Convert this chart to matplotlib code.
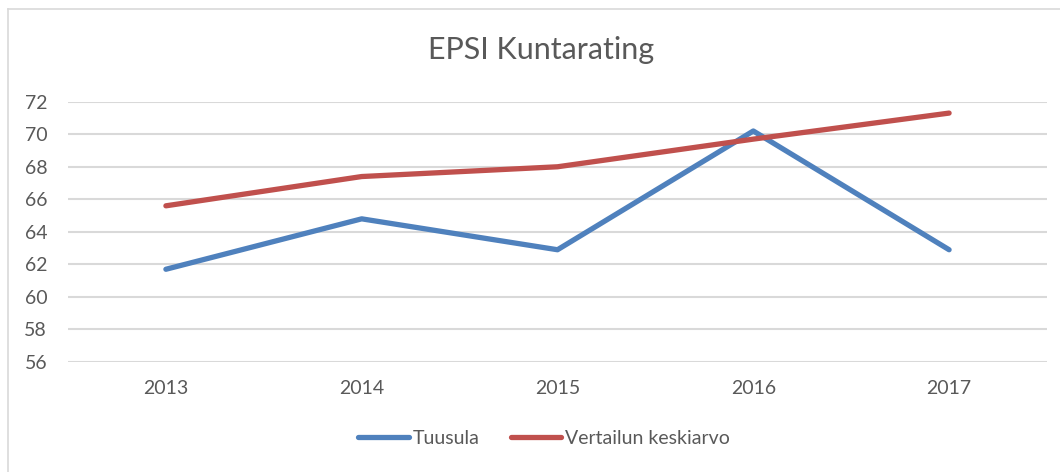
import matplotlib
matplotlib.use("Agg")
import matplotlib.pyplot as plt
from matplotlib.lines import Line2D

years = ["2013", "2014", "2015", "2016", "2017"]
tuusula = [61.7, 64.8, 62.9, 70.2, 62.9]
vertailu = [65.6, 67.4, 68.0, 69.7, 71.3]
series_names = ["Tuusula", "Vertailun keskiarvo"]
yticks = [56, 58, 60, 62, 64, 66, 68, 70, 72]

plt.rcParams['font.family'] = ['Lato', 'DejaVu Sans']
txt = '#595959'

fig = plt.figure(figsize=(10.6, 4.72), dpi=100)
ax = fig.add_axes([68/1060, 1-362/472, (1047-68)/1060, (362-101.7)/472])

x = list(range(len(years)))
ax.plot(x, tuusula, color='#4F81BD', lw=3.8, solid_capstyle='round', solid_joinstyle='round', label=series_names[0], zorder=3)
ax.plot(x, vertailu, color='#C0504D', lw=3.8, solid_capstyle='round', solid_joinstyle='round', label=series_names[1], zorder=3)

ax.set_xlim(-0.5, len(years)-0.5)
ax.set_ylim(56, 72)
ax.set_yticks(yticks)
ax.set_xticks(x)
ax.set_xticklabels(years)
ax.yaxis.grid(True, color='#D9D9D9', lw=1.5)
ax.set_axisbelow(True)
for s in ax.spines.values():
    s.set_visible(False)
ax.tick_params(axis='both', length=0, labelsize=14, colors=txt)
ax.tick_params(axis='y', pad=15)
ax.tick_params(axis='x', pad=13)

fig.text(541/1060, 1-50/472, "EPSI Kuntarating", ha='center', va='center', fontsize=22, color=txt)

handles = [Line2D([0], [0], color='#4F81BD', lw=3.8, solid_capstyle='round'),
           Line2D([0], [0], color='#C0504D', lw=3.8, solid_capstyle='round')]
fig.legend(handles, series_names, loc='center', bbox_to_anchor=(544/1060, 1-438/472),
           ncol=2, frameon=False, fontsize=14, labelcolor=txt, handlelength=2.6,
           handletextpad=0.2, columnspacing=1.6)

# chart border (top and left visible)
fig.add_artist(Line2D([8/1060, 8/1060], [0, 1-9/472], color='#D9D9D9', lw=1.2, transform=fig.transFigure))
fig.add_artist(Line2D([8/1060, 1], [1-9/472, 1-9/472], color='#D9D9D9', lw=1.2, transform=fig.transFigure))

fig.savefig("out.png", dpi=100, facecolor='white')
